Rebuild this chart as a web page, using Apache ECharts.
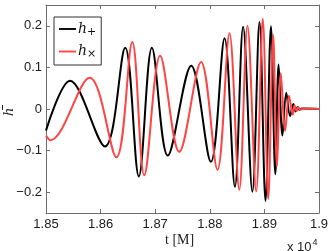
<!DOCTYPE html>
<html>
<head>
<meta charset="utf-8">
<script src="https://cdn.jsdelivr.net/npm/echarts@6/dist/echarts.min.js"></script>
<style>html,body{margin:0;padding:0;background:#fff;}#c{width:332px;height:251px;}</style>
</head>
<body>
<div id="c"></div>
<script>
// h+ (black): start value and successive extrema
const tPlus = [18500,18544,18608,18645,18670,18694,18723,18766,18802,18827,18846,18861,18878,18891,18902,18912,18920,18926,18933,18940,18947,18953,18957,18961,18964,18969,19000];
const hPlus = [-0.052,0.068,-0.090,0.147,-0.162,0.147,-0.112,0.104,-0.127,0.170,-0.187,0.198,-0.199,0.209,-0.221,0.199,-0.157,0.107,-0.064,0.039,-0.017,0.012,-0.006,0.005,-0.002,0.001,0];
// h× (red)
const tCross = [18500,18508,18580,18629,18658,18680,18709,18744,18784,18814,18836,18854,18869,18885,18897,18907,18916,18923,18930,18938,18945,18952,18955,18959,18962,18966,18971,19000];
const hCross = [-0.064,-0.075,0.075,-0.116,0.161,-0.159,0.128,-0.103,0.113,-0.146,0.182,-0.194,0.200,-0.198,0.217,-0.216,0.178,-0.138,0.086,-0.052,0.032,-0.014,0.009,-0.005,0.004,-0.002,0.001,0];

const xTicks = [18500,18600,18700,18800,18900,19000];
const xTickLabels = ['1.85','1.86','1.87','1.88','1.89','1.9'];
const yTicks = [-0.2,-0.1,0,0.1,0.2];
const yTickLabels = ['\u22120.2','\u22120.1','0','0.1','0.2'];

const seriesNames = ['h+','h\u00d7'];

const axisColor = '#6e6e6e';
const labelFont = {fontFamily:'Liberation Sans, Arial, sans-serif', fontSize:13, color:'#1a1a1a'};

function zip(a,b){return a.map((v,i)=>[v,b[i]]);}

const chart = echarts.init(document.getElementById('c'), null, {renderer:'canvas'});
const baseX = {
  type:'value', min:18500, max:19000, interval:100,
  axisLine:{show:true, onZero:false, lineStyle:{color:axisColor, width:1}},
  axisTick:{show:true, inside:true, length:4, lineStyle:{color:axisColor}},
  splitLine:{show:false}
};
const baseY = {
  type:'value', min:-0.25, max:0.25,
  axisLine:{show:true, onZero:false, lineStyle:{color:axisColor, width:1}},
  axisTick:{show:true, inside:true, length:4, lineStyle:{color:axisColor}, customValues:yTicks},
  splitLine:{show:false}
};
chart.setOption({
  animation:false,
  backgroundColor:'#fff',
  grid:{left:46, right:13, top:5, bottom:38, containLabel:false},
  xAxis:[
    Object.assign({}, baseX, {position:'bottom',
      axisLabel:{show:true, margin:5, ...labelFont,
        formatter:(v)=>{const i = xTicks.indexOf(Math.round(v)); return i>=0 ? xTickLabels[i] : '';}}}),
    Object.assign({}, baseX, {position:'top', axisLabel:{show:false}})
  ],
  yAxis:[
    Object.assign({}, baseY, {position:'left',
      axisLabel:{show:true, margin:4, ...labelFont, customValues:yTicks,
        formatter:(v)=>{const i = yTicks.findIndex(t=>Math.abs(t-v)<1e-9); return i>=0 ? yTickLabels[i] : '';}}}),
    Object.assign({}, baseY, {position:'right', axisLabel:{show:false}})
  ],
  legend:{
    orient:'vertical', left:54, top:17,
    backgroundColor:'#fff', borderColor:'#333', borderWidth:1,
    padding:[5,5,5,5], itemGap:7, itemWidth:17, itemHeight:14,
    icon:'path://M0,0H20V2.2H0Z',
    data:seriesNames,
    formatter:(n)=> n==='h+' ? '{h|h}{s|+}' : '{h|h}{s|\u00d7}',
    textStyle:{
      padding:[0,0,0,-3],
      rich:{
        h:{fontFamily:'DejaVu Serif, Liberation Serif, serif', fontStyle:'italic', fontSize:14, color:'#111'},
        s:{fontFamily:'DejaVu Serif, Liberation Serif, serif', fontSize:11, color:'#111', padding:[6,0,0,0]}
      }
    }
  },
  series:[
    {name:seriesNames[0], type:'line', xAxisIndex:0, yAxisIndex:0, data:zip(tPlus,hPlus),
     smooth:0.35, symbol:'none', lineStyle:{color:'#000', width:2}, itemStyle:{color:'#000'}},
    {name:seriesNames[1], type:'line', xAxisIndex:0, yAxisIndex:0, data:zip(tCross,hCross),
     smooth:0.35, symbol:'none', lineStyle:{color:'#ff4444', width:2}, itemStyle:{color:'#ff4444'}}
  ],
  graphic:[
    {type:'text', left:165, top:233, style:{text:'t [M]', font:'14px "Liberation Serif", "DejaVu Serif", serif', fill:'#222'}},
    {type:'text', left:287, top:238, style:{text:'x 10{e|4}', font:'13px "Liberation Sans", Arial, sans-serif', fill:'#222',
      rich:{e:{fontSize:9, fontFamily:'Liberation Sans, Arial, sans-serif', fill:'#222', padding:[0,0,9,1]}}}},
    {type:'text', x:3, y:116, rotation:Math.PI/2, style:{text:'h', font:'italic 13px "DejaVu Serif", serif', fill:'#222'}},
    {type:'line', shape:{x1:2.5, y1:105, x2:2.5, y2:110}, style:{stroke:'#222', lineWidth:1}}
  ]
});
</script>
</body>
</html>
